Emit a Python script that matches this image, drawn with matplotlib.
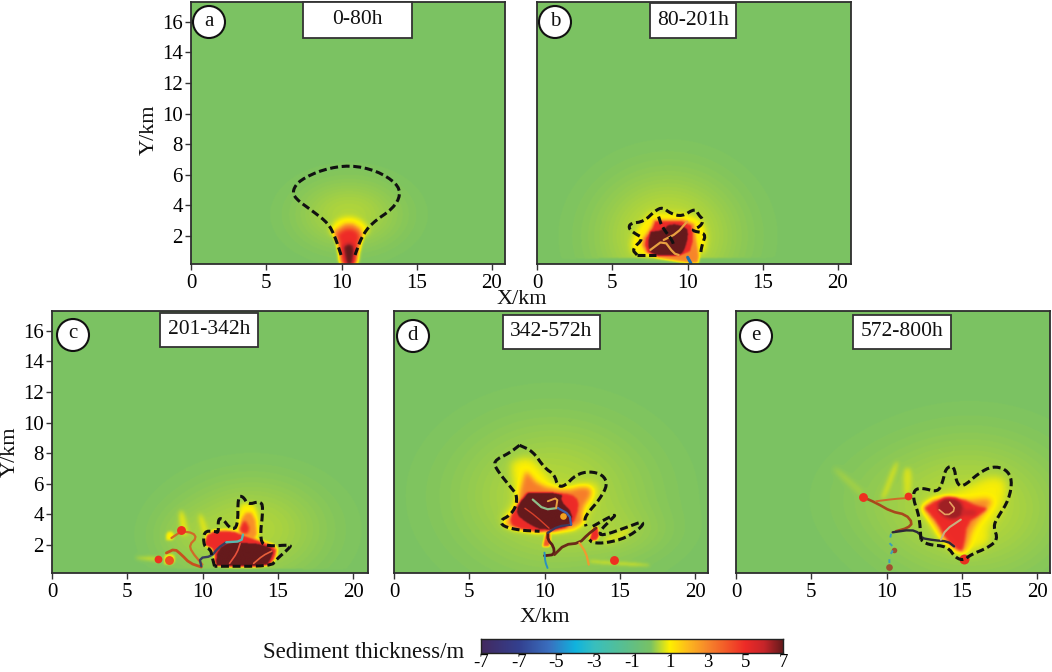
import numpy as np
import matplotlib
matplotlib.use("Agg")
import matplotlib.pyplot as plt
from matplotlib.colors import LinearSegmentedColormap, Normalize
from matplotlib.path import Path
from matplotlib.patches import Rectangle, Ellipse

plt.rcParams['font.family'] = ['Liberation Serif', 'DejaVu Serif']

W, H = 1052, 672
BG_THICKNESS = 0.0

# ---- colour scale (true position on bar, colour) ----
scale_values = [-9, -7, -5.4, -4, -3, -1, 0, 1, 2, 3, 5, 6, 7]
scale_colors = ['#43295f', '#33408f', '#3a6fbf', '#10b3de', '#38bfbe', '#62bf84', '#79c264',
                '#fff000', '#fdb81e', '#f7872b', '#ee2b27', '#c7252a', '#651a1c']
bar_ticks = [-9, -7, -5, -3, -1, 1, 3, 5, 7]
bar_labels = ['-7', '-7', '-5', '-3', '-1', '1', '3', '5', '7']

x_ticks = [0, 5, 10, 15, 20]
y_ticks = [2, 4, 6, 8, 10, 12, 14, 16]

# ---- panel a ----
a_title = '0-80h'
a_outline = [[(9.97, .76), (9.57, 1.95), (9.12, 2.83), (8.13, 3.59), (6.91, 4.46), (6.75, 5.0), (7.24, 5.66),
              (8.79, 6.36), (10.56, 6.64), (12.34, 6.27), (13.67, 5.44), (13.93, 4.68), (13.44, 3.81),
              (12.0, 2.83), (11.34, 1.95), (10.9, .76)]]
a_halos = [(10.5, 3.4, 2.3, 1.5, 0.42)]
a_layers = [
    (1.1, .18, [(9.2, 2.3), (9.6, 3.0), (10.5, 3.3), (11.4, 3.0), (11.9, 2.3), (11.3, 1.9), (9.6, 1.9)]),
    (3.0, .12, [(9.5, 2.3), (10.5, 2.95), (11.5, 2.3), (11.15, 1.2), (11.0, 0), (9.95, 0), (9.85, 1.2)]),
    (5.0, .15, [(9.7, 2.1), (10.5, 2.6), (11.3, 2.1), (11.0, 1.2), (10.85, 0), (10.1, 0), (9.95, 1.2)]),
    (7.0, .12, [(10.1, 1.3), (10.5, 1.55), (10.9, 1.3), (10.72, 0), (10.33, 0)]),
]
a_channels = []
a_spots = []

# ---- panel b ----
b_title = '80-201h'
b_outline = [[(6.65, .76), (6.31, 1.13), (7.09, 1.85), (6.47, 2.18), (6.09, 2.5), (6.2, 2.83), (7.09, 2.94),
              (7.86, 3.66), (8.35, 3.88), (8.86, 3.48), (9.64, 3.27), (10.52, 3.81), (10.74, 3.37),
              (11.07, 3.05), (10.85, 2.61), (10.19, 2.35), (11.25, 2.18), (10.96, 1.41), (10.85, .72)],
             [(6.65, .76), (7.93, .76)],
             [(8.08, 3.27), (8.3, 2.61), (8.97, 1.74), (9.08, 1.41)]]
b_halos = [(8.7, 2.0, 3.0, 2.6, 0.6)]
b_layers = [
    (0.0, .05, [(0, 0), (20.9, 0), (20.9, .55), (0, .55)]),
    (1.1, .2, [(7.53, 3.48), (10.63, 3.37), (11.3, 2.18), (11.08, .65), (6.42, .65), (6.2, 1.63), (6.87, 2.61)]),
    (3.0, .08, [(7.75, 3.05), (10.41, 3.05), (10.52, 1.96), (10.85, .2), (10.19, .2), (7.31, .69), (6.87, 1.63), (7.53, 2.5)]),
    (5.0, .05, [(7.86, 2.94), (10.19, 2.94), (10.41, 1.85), (10.08, .69), (7.42, .69), (7.09, 1.63), (7.64, 2.39)]),
    (7.0, .05, [(7.53, 2.28), (8.31, 2.39), (8.86, 2.83), (9.97, 2.61), (10.08, 1.96), (9.75, .87), (9.3, .69), (7.64, .69), (7.31, 1.41)]),
]
b_channels = [
    ('#e8a040', 1.6, [(7.53, 1.09), (8.42, 1.74), (9.08, .87), (9.41, .76)]),
    ('#e8a040', 1.6, [(8.42, 1.74), (9.3, 2.18), (9.97, 2.94)]),
    ('#1c6fb0', 2.2, [(10.01, .61), (10.23, .21)]),
]
b_spots = []

# ---- panel c ----
c_title = '201-342h'
c_outline = [[(10.8, .61), (10.63, 1.26), (10.54, 1.7), (10.08, 1.91), (10.08, 2.9), (10.81, 2.9), (11.07, 2.79),
              (11.03, 3.66), (11.29, 3.77), (11.91, 3.0), (12.35, 3.22), (12.35, 5.18), (12.69, 5.18),
              (13.02, 4.64), (13.79, 4.86), (14.05, 4.53), (13.79, 2.24), (14.34, 1.91), (15.88, 2.02),
              (15.77, 1.8), (14.89, 1.04), (14.56, .61), (10.8, .61)]]
c_halos = [(13.3, 3.0, 3.2, 2.2, 0.42), (9.0, 2.5, 1.6, 1.3, 0.12)]
c_layers = [
    (0.0, .05, [(0, 0), (20.9, 0), (20.9, .42), (0, .42)]),
    (.8, .14, [(8.6, 2.6), (8.4, 4.2), (8.75, 4.2), (9.1, 2.6)]),
    (.8, .14, [(10.0, 2.8), (9.7, 4.0), (9.95, 4.0), (10.4, 2.8)]),
    (.8, .12, [(5.6, 1.2), (7.2, 1.15), (7.2, .95), (5.6, 1.1)]),
    (1.0, .08, [(7.6, 2.3), (7.6, 2.85), (8.1, 2.85), (8.1, 2.3)]),
    (1.0, .08, [(7.45, .75), (7.45, 1.4), (8.15, 1.4), (8.15, .75)]),
    (1.0, .15, [(12.35, 3), (12.46, 4.53), (12.8, 4.75), (13.68, 4.53), (13.79, 2.35), (12.35, 2.35)]),
    (2.8, .1, [(12.46, 2.79), (12.69, 4.09), (13.46, 4.09), (13.68, 2.2)]),
    (5.0, .1, [(12.45, 3.0), (12.8, 3.7), (13.2, 3.0), (12.8, 2.6)]),
    (3.0, .08, [(10.14, 2.02), (10.37, 2.9), (11.91, 3.0), (12.8, 2.65), (13.68, 2.35), (15.0, 1.9), (14.9, 1.15), (14.4, .56), (10.8, .56), (10.8, 1.7)]),
    (5.0, .05, [(10.14, 2.02), (10.37, 2.79), (11.91, 2.9), (12.8, 2.57), (13.68, 2.24), (14.89, 1.8), (14.78, 1.15), (14.34, .56), (10.8, .56), (10.8, 1.7)]),
    (7.0, .04, [(10.87, .61), (10.98, 1.7), (11.87, 2.24), (12.75, 2.13), (13.79, 2.09), (14.78, 1.7), (14.56, 1.04), (14.23, .61)]),
]
c_channels = [
    ('#c8501e', 2.0, [(7.6, 1.48), (8.15, 1.74), (8.6, 1.37), (9.15, .82), (9.92, .56)]),
    ('#d06a28', 1.6, [(9.99, .72), (9.26, 1.59), (9.15, 2.02), (9.59, 2.46), (9.37, 2.79), (8.6, 2.9), (7.94, 2.46)]),
    ('#3a3f60', 1.7, [(9.92, .61), (9.8, 1.15), (10.59, 1.26), (11.03, 1.8), (11.58, 2.18)]),
    ('#56b8b0', 1.7, [(11.58, 2.18), (12.58, 2.24), (12.69, 2.68)]),
    ('#e8503a', 1.2, [(11.8, .8), (12.3, 1.5), (12.5, 2.1)]),
    ('#e8603a', 1.2, [(13.4, .8), (14.0, 1.3), (14.6, 1.6)]),
]
c_spots = [('#ee3020', 7.05, 1.09, 7), ('#ee5020', 7.8, 1.05, 8), ('#ee3020', 8.6, 2.95, 8)]

# ---- panel d ----
d_title = '342-572h'
d_outline = [[(8.34, 8.52), (9.22, 8.13), (10.0, 7.04), (10.66, 6.6), (10.88, 5.84), (11.33, 5.84), (12.1, 6.6),
              (12.98, 6.82), (13.87, 6.6), (14.2, 5.95), (13.65, 4.97), (12.87, 4.09), (12.65, 3.66), (12.76, 3.22)],
             [(13.21, 3.22), (14.31, 3.83), (14.75, 3.99), (14.42, 3.66), (13.65, 2.9), (13.76, 2.57), (15.64, 3.22),
              (16.52, 3.55), (16.52, 3.22), (15.42, 2.46), (14.09, 2.13), (13.21, 2.13), (12.98, 2.35)],
             [(8.34, 8.52), (7.68, 8.02), (6.57, 7.47), (6.9, 6.82), (7.79, 5.73), (8.16, 5.29), (8.12, 4.53),
              (7.68, 3.92), (7.06, 3.61), (7.24, 3.22), (8.34, 2.96), (9.67, 2.9)]]
d_halos = [(10.5, 5.2, 4.2, 3.2, 0.46), (15, 2.8, 2.4, 1.1, 0.12)]
d_layers = [
    (.9, .18, [(13.9, 2.3), (16.2, 3.4), (15.4, 2.6), (14.1, 2.1)]),
    (.6, .1, [(13.0, 1.0), (17, .75), (17, .55), (13, .8)]),
    (1.0, .28, [(7.79, 7.36), (9.0, 7.8), (10.0, 6.71), (10.88, 5.62), (12.1, 5.95), (13.43, 6.06), (13.65, 5.4), (12.76, 4.09),
                (12.54, 3.22), (9.67, 2.9), (7.46, 3.22), (7.12, 3.66), (8.12, 4.75), (8.01, 5.84)]),
    (3.2, .16, [(8.78, 6.82), (9.67, 5.84), (11.44, 5.51), (12.76, 5.84), (13.21, 5.4), (12.43, 4.31), (12.54, 3.22),
                (10.11, 2.79), (7.23, 3.22), (7.68, 3.77), (8.23, 4.53), (8.45, 5.84)]),
    (5.0, .07, [(8.78, 5.4), (11.22, 5.4), (12.1, 5.18), (12.32, 4.53), (11.88, 3.22), (10.11, 2.79), (7.9, 3.11), (7.68, 3.77), (8.23, 4.64)]),
    (7.0, .04, [(8.89, 5.4), (11.22, 5.4), (11.11, 4.86), (11.88, 4.09), (11.77, 3.22), (9.89, 2.9), (8.78, 3.44), (8.12, 3.99), (8.23, 4.64)]),
    (5.0, .05, [(12.98, 2.24), (13.21, 3.11), (13.54, 3.22), (13.65, 2.35)]),
    (4.0, .06, [(9.9, 1.9), (10.1, 2.8), (10.4, 2.8), (10.4, 1.9)]),
]
d_channels = [
    ('#5a1c18', 2.0, [(10, 1.3), (10.66, 1.37), (10.6, 1.91), (10.22, 2.35), (10.22, 2.79)]),
    ('#3c3a60', 1.6, [(10.22, 2.79), (10.88, 3.22), (11.77, 3.33)]),
    ('#6a2a18', 2.0, [(10.66, 1.37), (11.33, 2.02), (12.32, 2.13), (12.87, 2.68), (13.43, 3.11)]),
    ('#f09a30', 1.6, [(12.32, 2.13), (12.76, 1.48), (12.94, .72)]),
    ('#8fbf8a', 1.6, [(9.22, 4.97), (9.99, 4.31), (10.88, 4.42)]),
    ('#4060a8', 1.6, [(10.88, 4.42), (11.66, 3.99), (11.77, 3.33)]),
    ('#e8a040', 1.4, [(10.22, 4.86), (10.88, 5.1), (10.77, 4.42)]),
    ('#d8402a', 1.0, [(8.7, 4.4), (9.4, 3.9), (10.3, 3.1)]),
    ('#2a90c0', 1.4, [(10.0, 1.5), (10.05, .9), (10.2, .5)]),
]
d_spots = [('#ee3020', 14.64, 1.0, 8), ('#f2a020', 11.2, 3.9, 6)]

# ---- panel e ----
e_title = '572-800h'
e_outline = [[(12.29, 2.35), (12.18, 3.88), (11.78, 4.97), (11.84, 5.62), (12.4, 5.73), (13.39, 5.45), (13.72, 6.06),
              (13.94, 7.04), (14.49, 7.19), (14.65, 6.06), (15.05, 5.77), (16.15, 6.71), (17.03, 7.15), (17.92, 6.97),
              (18.36, 6.27), (18.14, 4.97), (17.37, 3.77), (17.1, 3.22), (17.41, 2.35), (16.71, 1.81), (15.6, 1.37),
              (15.16, 1.0), (14.6, 1.15), (14.05, 1.91), (12.73, 2.02), (12.29, 2.35)]]
e_halos = [(15.6, 4.4, 4.0, 3.0, 0.48), (9.5, 5.2, 3.0, 2.2, 0.06)]
e_layers = [
    (.7, .14, [(9.64, 5.07), (10.55, 7.4), (10.85, 7.4), (9.95, 5.07)]),
    (.7, .14, [(11.2, 5.3), (11.1, 7.0), (11.7, 7.0), (11.6, 5.3)]),
    (.5, .18, [(8.3, 5.3), (6.4, 7.0), (6.7, 7.0), (8.6, 5.3)]),
    (.95, .3, [(12.4, 4.53), (13.61, 5.18), (15.16, 5.62), (16.92, 6.49), (18.03, 6.27), (17.81, 4.75), (17.14, 3.66),
               (16.7, 3.0), (16.92, 2.13), (15.6, 1.59), (14.94, 1.37), (13.61, 2.35), (12.95, 3.44)]),
    (3.0, .2, [(12.4, 4.42), (13.39, 5.07), (15.16, 4.86), (17.14, 5.07), (16.7, 4.31), (15.71, 3.11), (15.38, 1.91),
               (15.05, 1.37), (13.83, 2.35), (13.17, 3.44)]),
    (5.0, .09, [(12.51, 4.42), (13.39, 4.97), (14.94, 5.07), (16.04, 4.53), (16.81, 4.42), (16.26, 3.99), (15.38, 3.44),
                (15.16, 1.91), (14.94, 1.48), (13.94, 2.35), (13.39, 3.44)]),
    (6.4, .1, [(13.39, 4.75), (13.94, 5.18), (14.94, 4.97), (15.27, 4.09), (14.72, 3.66), (14.05, 3.66), (13.39, 4.2)]),
    (5.8, .12, [(15.0, 4.3), (16.0, 4.3), (16.0, 3.9), (15.0, 3.9)]),
]
e_channels = [
    ('#a8481c', 1.9, [(8.42, 5.14), (9.31, 4.75), (10.3, 4.2), (11.29, 3.98), (11.73, 3.44), (11.4, 3.11), (10.63, 2.9)]),
    ('#d06a28', 1.4, [(9.31, 4.86), (10.52, 5.01), (11.4, 5.07)]),
    ('#2c2838', 1.7, [(10.41, 2.83), (11.62, 3.0), (12.18, 2.79), (12.29, 2.46), (13.17, 2.31), (14.05, 2.24), (14.49, 1.91)]),
    ('#c8b080', 1.5, [(13.61, 2.35), (13.94, 3.0), (14.94, 3.66)]),
    ('#e8a060', 1.2, [(13.5, 4.3), (14.0, 3.9), (14.6, 4.3), (14.2, 4.8)]),
]
e_spots = [('#ee3020', 8.42, 5.14, 8), ('#ee3020', 11.4, 5.2, 7), ('#e83020', 15.16, 1.1, 9), ('#a05030', 10.19, .55, 6), ('#a05030', 10.52, 1.7, 5)]
e_dashes = [(10.3, 2.74), (10.19, 2.13), (10.52, 1.81), (10.19, 1.26), (10.19, .5)]


def smooth(points, rounds=2):
    p = np.asarray(points, float)
    for _ in range(rounds):
        q = [p[0]]
        for a, b in zip(p[:-1], p[1:]):
            q += [0.75 * a + 0.25 * b, 0.25 * a + 0.75 * b]
        q.append(p[-1])
        p = np.array(q)
    return p


def blur(arr, sigma, step):
    n = max(1, int(round(3 * sigma / step)))
    k = np.exp(-0.5 * (np.arange(-n, n + 1) * step / sigma) ** 2)
    k /= k.sum()
    out = np.apply_along_axis(lambda r: np.convolve(np.pad(r, n, mode='edge'), k, mode='valid'), 0, arr)
    return np.apply_along_axis(lambda r: np.convolve(np.pad(r, n, mode='edge'), k, mode='valid'), 1, out)


def build_field(halos, layers, xlim, ylim):
    step = 0.04
    xs = np.arange(0, xlim + step, step)
    ys = np.arange(0, ylim + step, step)
    X, Y = np.meshgrid(xs, ys)
    F = np.full(X.shape, BG_THICKNESS)
    for cx, cy, sx, sy, amp in halos:
        F += amp * np.exp(-0.5 * (((X - cx) / sx) ** 2 + ((Y - cy) / sy) ** 2))
    pts = np.column_stack([X.ravel(), Y.ravel()])
    for value, sigma, poly in layers:
        mask = Path(smooth(list(poly) + [poly[0]], 1)).contains_points(pts).reshape(X.shape).astype(float)
        m = blur(mask, sigma, step)
        F = F * (1 - m) + value * m
    return F, xs, ys


def pixel_rect(left, right, top, bottom):
    return [left / W, 1 - bottom / H, (right - left) / W, (bottom - top) / H]


cmap = LinearSegmentedColormap.from_list(
    'sed', [((v + 9) / 16, c) for v, c in zip(scale_values, scale_colors)], N=512)
norm = Normalize(-9, 7)

fig = plt.figure(figsize=(W / 100, H / 100), dpi=100, facecolor='white')
overlay = fig.add_axes([0, 0, 1, 1], zorder=10)
overlay.set_xlim(0, W)
overlay.set_ylim(H, 0)
overlay.axis('off')

panels = [
    ('a', a_title, a_outline, a_halos, a_layers, a_channels, a_spots, (191, 505, 2, 264), True, (209, 22), (303, 412, 2, 38)),
    ('b', b_title, b_outline, b_halos, b_layers, b_channels, b_spots, (537, 851, 2, 264), False, (555, 22), (650, 736, 3, 38)),
    ('c', c_title, c_outline, c_halos, c_layers, c_channels, c_spots, (52, 368, 311, 573), True, (73, 335), (160, 258, 313, 347)),
    ('d', d_title, d_outline, d_halos, d_layers, d_channels, d_spots, (394, 708, 311, 573), False, (413, 336), (503, 600, 315, 349)),
    ('e', e_title, e_outline, e_halos, e_layers, e_channels, e_spots, (736, 1050, 311, 573), False, (756, 336), (853, 951, 315, 349)),
]

for tag, title, outline, halos, layers, channels, spots, box, show_y, circle, label_box in panels:
    l, r, t, b = box
    ax = fig.add_axes(pixel_rect(l, r, t, b))
    xmax = (r - l) / 15.05
    ymin, ymax = 0.17, 0.17 + (b - t) / 15.3
    F, xs, ys = build_field(halos, layers, xmax, ymax)
    ax.imshow(F, origin='lower', extent=[0, xs[-1], 0, ys[-1]], cmap=cmap, norm=norm,
              aspect='auto', interpolation='bilinear')
    for color, lw, pts in channels:
        p = smooth(pts, 1)
        ax.plot(p[:, 0], p[:, 1], color=color, lw=lw, solid_capstyle='round')
    for color, sx, sy, size in spots:
        ax.plot([sx], [sy], 'o', color=color, ms=size * 0.8, mew=0)
    if tag == 'e':
        p = np.array(e_dashes)
        ax.plot(p[:, 0], p[:, 1], color='#3a9fb8', lw=1.4, ls=(0, (2, 3)))
    for seg in outline:
        p = smooth(seg, 2)
        ax.plot(p[:, 0], p[:, 1], color='#111111', lw=2.2, ls=(0, (2.6, 1.2)), dash_capstyle='butt')
    ax.set_xlim(0, xmax)
    ax.set_ylim(ymin, ymax)
    ax.set_xticks(x_ticks)
    ax.tick_params(axis='x', labelsize=15, length=4, width=1, pad=3, color='#333333')
    if show_y:
        ax.set_yticks(y_ticks)
        ax.tick_params(axis='y', labelsize=15, length=4, width=1, pad=2, color='#333333')
    else:
        ax.set_yticks([])
    for s in ax.spines.values():
        s.set_linewidth(1.3)
        s.set_color('#2e2e2e')
    bl, br, bt, bb = label_box
    overlay.add_patch(Rectangle((bl, bt), br - bl, bb - bt, fc='white', ec='#333333', lw=1.3))
    overlay.text((bl + br) / 2, (bt + bb) / 2, title, ha='center', va='center', fontsize=15.5, color='#111111')
    overlay.add_patch(Ellipse(circle, 32, 32, fc='white', ec='#111111', lw=1.5))
    overlay.text(circle[0], circle[1] - 1, tag, ha='center', va='center', fontsize=15, color='#111111')

label_style = dict(ha='center', va='center', fontsize=16, color='#111111')
overlay.text(149, 130, 'Y/km', rotation=90, **label_style)
overlay.text(10, 452, 'Y/km', rotation=90, **label_style)
overlay.text(522, 299, 'X/km', **label_style)
overlay.text(545, 617, 'X/km', **label_style)
overlay.text(364, 652, 'Sediment thickness/m', ha='center', va='center', fontsize=16.5, color='#111111')

cax = fig.add_axes(pixel_rect(481, 783, 639, 653))
cax.imshow(np.linspace(-9, 7, 512)[None, :], extent=[-9, 7, 0, 1], cmap=cmap, norm=norm, aspect='auto')
cax.set_yticks([])
cax.set_xticks(bar_ticks)
cax.set_xticklabels(bar_labels, fontsize=13.5)
cax.tick_params(axis='x', length=0, pad=1)
for s in cax.spines.values():
    s.set_linewidth(1.0)
    s.set_color('#222222')

fig.savefig('out.png', dpi=100)
